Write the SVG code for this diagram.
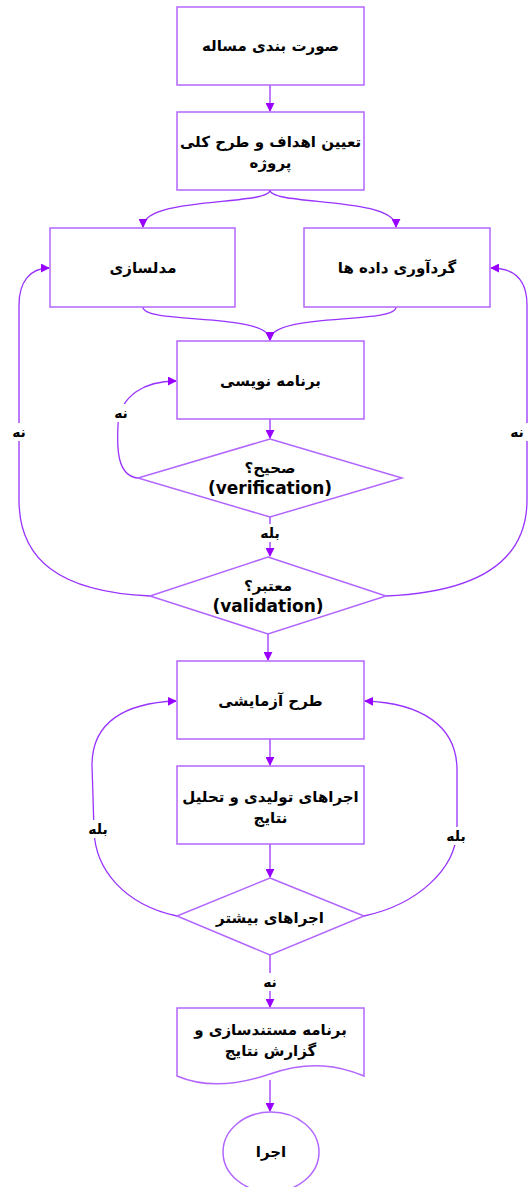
<svg xmlns="http://www.w3.org/2000/svg" width="529" height="1187" viewBox="0 0 529 1187">
  <style>
    .box { fill: #ffffff; stroke: #b266ff; stroke-width: 1.5; }
    .edge { fill: none; stroke: #9933ff; stroke-width: 1.3; }
    .t { font-family: "DejaVu Sans", "Noto Sans", sans-serif; font-weight: bold; font-size: 15px; fill: #000000; text-anchor: middle; dominant-baseline: central; }
    .en { font-size: 17px; }
    .lbl { font-family: "DejaVu Sans", "Noto Sans", sans-serif; font-weight: bold; font-size: 14px; fill: #000000; text-anchor: middle; dominant-baseline: central; }
  </style>
  <defs>
    <marker id="arr" viewBox="0 0 10 10" refX="9" refY="5" markerWidth="9" markerHeight="9" markerUnits="userSpaceOnUse" orient="auto">
      <path d="M0,0 L10,5 L0,10 Z" fill="#9900ff"/>
    </marker>
  </defs>
  <rect width="529" height="1187" fill="#ffffff"/>

  <g id="connectors">
    <path class="edge" d="M270,85 L270,111" marker-end="url(#arr)"/>
    <path class="edge" d="M270,190 C270,206 143,196 143,227" marker-end="url(#arr)"/>
    <path class="edge" d="M270,190 C270,206 396,196 396,227" marker-end="url(#arr)"/>
    <path class="edge" d="M143,307 C143,325 270,312 270,340" marker-end="url(#arr)"/>
    <path class="edge" d="M396,307 C396,325 270,312 270,340" marker-end="url(#arr)"/>
    <path class="edge" d="M270,419 L270,438" marker-end="url(#arr)"/>
    <path class="edge" d="M138,478 C116,476 117,445 118,425 C120,395 145,381 176,381" marker-end="url(#arr)"/>
    <path class="edge" d="M270,517 L270,556" marker-end="url(#arr)"/>
    <path class="edge" d="M150,596 C60,592 19,560 19,500 L19,305 C19,282 30,268 49,268" marker-end="url(#arr)"/>
    <path class="edge" d="M386,596 C480,592 527,560 527,500 L527,305 C527,282 516,268 491,268" marker-end="url(#arr)"/>
    <path class="edge" d="M268,634 L268,660" marker-end="url(#arr)"/>
    <path class="edge" d="M270,739 L270,765" marker-end="url(#arr)"/>
    <path class="edge" d="M270,844 L270,877" marker-end="url(#arr)"/>
    <path class="edge" d="M177,916 C125,905 95,870 94,830 L92,765 C92,722 125,703 176,701" marker-end="url(#arr)"/>
    <path class="edge" d="M364,916 C416,905 456,870 457,830 L457,770 C457,725 420,703 365,701" marker-end="url(#arr)"/>
    <path class="edge" d="M270,955 L270,1007" marker-end="url(#arr)"/>
    <path class="edge" d="M270,1080 L270,1111" marker-end="url(#arr)"/>
    <!-- branch labels -->
    <rect x="255" y="524" width="30" height="18" fill="#ffffff"/>
    <text class="lbl" x="270" y="533" direction="rtl">بله</text>
    <rect x="110" y="404" width="22" height="18" fill="#ffffff"/>
    <text class="lbl" x="121" y="413" direction="rtl">نه</text>
    <rect x="8" y="423" width="22" height="18" fill="#ffffff"/>
    <text class="lbl" x="19" y="432" direction="rtl">نه</text>
    <rect x="507" y="423" width="22" height="18" fill="#ffffff"/>
    <text class="lbl" x="517" y="432" direction="rtl">نه</text>
    <rect x="82" y="820" width="32" height="18" fill="#ffffff"/>
    <text class="lbl" x="98" y="829" direction="rtl">بله</text>
    <rect x="440" y="827" width="32" height="18" fill="#ffffff"/>
    <text class="lbl" x="456" y="836" direction="rtl">بله</text>
    <rect x="258" y="973" width="24" height="18" fill="#ffffff"/>
    <text class="lbl" x="270" y="982" direction="rtl">نه</text>
  </g>

  <g id="n1">
    <rect class="box" x="177" y="7" width="187" height="78"/>
    <text class="t" x="270.5" y="46" direction="rtl">صورت بندی مساله</text>
  </g>
  <g id="n2">
    <rect class="box" x="177" y="112" width="187" height="78"/>
    <text class="t" x="270.5" y="142" direction="rtl">تعیین اهداف و طرح کلی</text>
    <text class="t" x="270.5" y="163" direction="rtl">پروژه</text>
  </g>
  <g id="n3">
    <rect class="box" x="50" y="228" width="185" height="79"/>
    <text class="t" x="143" y="268" direction="rtl">مدلسازی</text>
  </g>
  <g id="n4">
    <rect class="box" x="304" y="228" width="186" height="79"/>
    <text class="t" x="397" y="268" direction="rtl">گردآوری داده ها</text>
  </g>
  <g id="n5">
    <rect class="box" x="177" y="341" width="187" height="78"/>
    <text class="t" x="270.5" y="381" direction="rtl">برنامه نویسی</text>
  </g>
  <g id="n6">
    <polygon class="box" points="270,439 402,478 270,517 138,478"/>
    <text class="t" x="270" y="468" direction="rtl">صحیح؟</text>
    <text class="t en" x="270" y="488">(verification)</text>
  </g>
  <g id="n7">
    <polygon class="box" points="268,557 386,596 268,634 150,596"/>
    <text class="t" x="268" y="586" direction="rtl">معتبر؟</text>
    <text class="t en" x="268" y="606">(validation)</text>
  </g>
  <g id="n8">
    <rect class="box" x="177" y="661" width="187" height="78"/>
    <text class="t" x="270.5" y="701" direction="rtl">طرح آزمایشی</text>
  </g>
  <g id="n9">
    <rect class="box" x="177" y="766" width="187" height="78"/>
    <text class="t" x="270.5" y="797" direction="rtl">اجراهای تولیدی و تحلیل</text>
    <text class="t" x="270.5" y="818" direction="rtl">نتایج</text>
  </g>
  <g id="n10">
    <polygon class="box" points="270,878 364,916 270,955 177,916"/>
    <text class="t" x="270" y="918" direction="rtl">اجراهای بیشتر</text>
  </g>
  <g id="n11">
    <path class="box" d="M177,1008 L364,1008 L364,1076 C340,1066 310,1060 270,1074 C235,1086 205,1088 177,1076 Z"/>
    <text class="t" x="270.5" y="1030" direction="rtl">برنامه مستندسازی و</text>
    <text class="t" x="270.5" y="1051" direction="rtl">گزارش نتایج</text>
  </g>
  <g id="n12">
    <ellipse class="box" cx="271" cy="1152" rx="48" ry="40"/>
    <text class="t" x="271" y="1152" direction="rtl">اجرا</text>
  </g>
</svg>
